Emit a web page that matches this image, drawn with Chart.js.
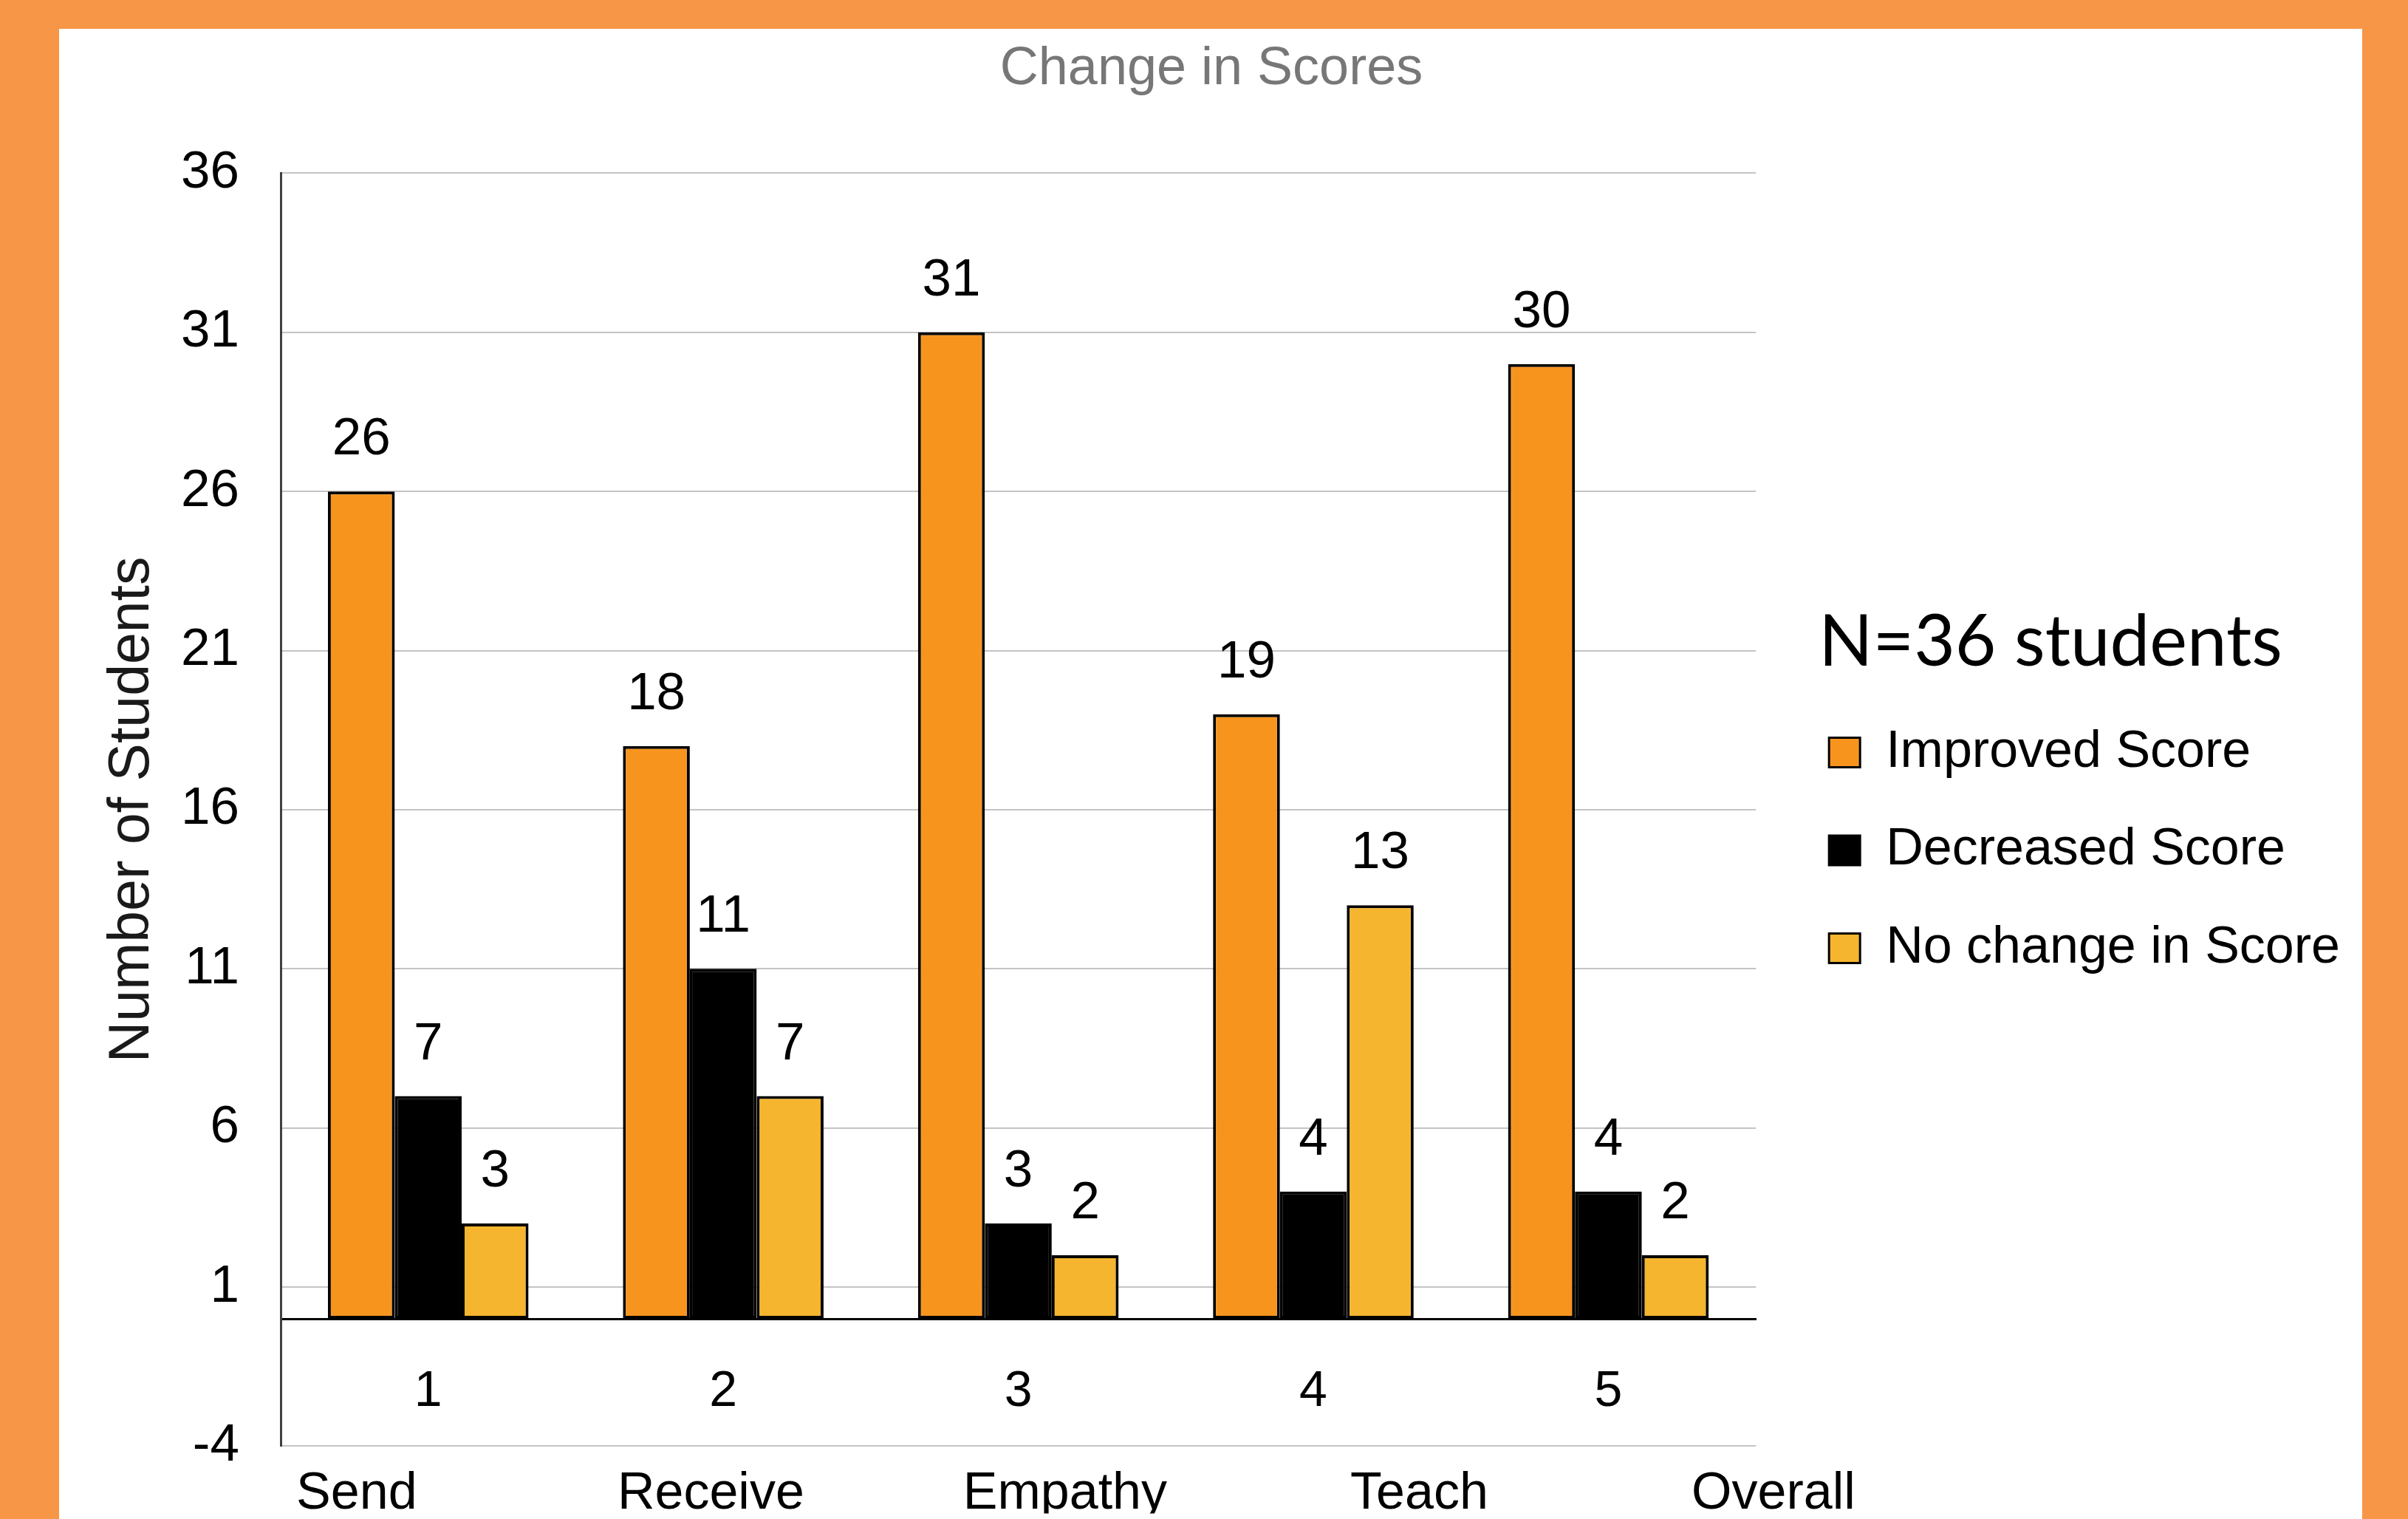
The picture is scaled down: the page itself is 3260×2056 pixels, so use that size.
<!DOCTYPE html>
<html lang="en">
<head>
<meta charset="UTF-8">
<title>Change in Scores</title>
<script src="https://cdn.jsdelivr.net/npm/chart.js"></script>
<style>
  html, body { margin: 0; padding: 0; }
  body { width: 3260px; height: 2056px; background: #f79646; position: relative; overflow: hidden; }
  .panel { position: absolute; left: 80px; top: 39px; width: 3118px; height: 2100px; background: #fff; }
  #scoresChart { position: absolute; left: 0; top: 0; }
</style>
</head>
<body>
<div class="panel"></div>
<canvas id="scoresChart" width="3260" height="2056"></canvas>

<script>
  // data
  const categories = ['1', '2', '3', '4', '5'];
  const skillNames = ['Send', 'Receive', 'Empathy', 'Teach', 'Overall'];
  const improved = [26, 18, 31, 19, 30];
  const decreased = [7, 11, 3, 4, 4];
  const noChange = [3, 7, 2, 13, 2];
  const yMin = -4, yMax = 36, yStep = 5;

  const sans = "'Liberation Sans', Arial, sans-serif";
  Chart.defaults.font.family = sans;

  // numbers above the bars
  const barValues = {
    id: 'barValues',
    afterDatasetsDraw(chart) {
      const ctx = chart.ctx;
      ctx.save();
      ctx.font = '71px ' + sans;
      ctx.fillStyle = '#000';
      ctx.textAlign = 'center';
      ctx.textBaseline = 'alphabetic';
      chart.data.datasets.forEach((ds, i) => {
        chart.getDatasetMeta(i).data.forEach((bar, j) => {
          ctx.fillText(String(ds.data[j]), bar.x, bar.y - 50);
        });
      });
      ctx.restore();
    }
  };

  const barStyle = {
    borderColor: '#000',
    borderWidth: 4,
    borderSkipped: false,
    categoryPercentage: 0.68,
    barPercentage: 1,
    xAxisID: 'x',
    yAxisID: 'y'
  };

  new Chart(document.getElementById('scoresChart'), {
    type: 'bar',
    data: {
      labels: categories,
      datasets: [
        Object.assign({label: 'Improved Score', data: improved, backgroundColor: '#f7941e'}, barStyle),
        Object.assign({label: 'Decreased Score', data: decreased, backgroundColor: '#000000'}, barStyle),
        Object.assign({label: 'No change in Score', data: noChange, backgroundColor: '#f6b52e'}, barStyle)
      ]
    },
    options: {
      responsive: false,
      animation: false,
      layout: { padding: { left: 102, right: 82, top: 0, bottom: 0 } },
      scales: {
        x: {
          position: { y: 0 },
          grid: { display: false },
          border: { display: true, color: '#000', width: 3 },
          ticks: { padding: 50, color: '#000', font: { size: 68 } }
        },
        // skill names under the plot, spaced a bit wider than the bar groups
        xNames: {
          type: 'linear',
          axis: 'x',
          position: 'bottom',
          offset: false,
          min: -0.2145,
          max: 3.9504,
          grid: { display: false, offset: false },
          border: { display: false },
          afterBuildTicks: s => { s.ticks = skillNames.map((n, i) => ({ value: i })); },
          afterFit: s => { s.height = 91; },
          ticks: {
            padding: 15, autoSkip: false, maxRotation: 0, color: '#000',
            font: { size: 70 },
            callback: v => skillNames[v]
          }
        },
        y: {
          min: yMin,
          max: yMax,
          ticks: { stepSize: yStep, padding: 56, color: '#000', font: { size: 71 } },
          grid: { color: '#c4c4c4', lineWidth: 2, drawTicks: false },
          border: { color: '#404040', width: 3 },
          title: {
            display: true,
            text: 'Number of Students',
            color: '#1a1a1a',
            font: { size: 77 },
            padding: { top: 32, bottom: 0 }
          },
          afterFit: s => { s.width = 278; }
        },
        // empty strip between plot and legend
        gap: {
          type: 'linear',
          axis: 'y',
          position: 'right',
          grid: { display: false },
          border: { display: false },
          ticks: { display: false },
          afterFit: s => { s.width = 85; }
        }
      },
      plugins: {
        title: {
          display: true,
          text: 'Change in Scores',
          color: '#777777',
          font: { size: 72, weight: 'normal' },
          padding: { top: 51, bottom: 97 }
        },
        legend: {
          position: 'right',
          align: 'start',
          fullSize: false,
          maxWidth: 900,
          title: {
            display: true,
            text: 'N=36 students',
            color: '#000',
            position: 'start',
            font: { size: 96, family: 'Lato' },
            padding: { top: 588, bottom: 32 }
          },
          labels: {
            color: '#000',
            boxWidth: 42,
            boxHeight: 40,
            padding: 14,
            font: { size: 70, lineHeight: 1.693 },
            generateLabels: chart =>
              Chart.defaults.plugins.legend.labels.generateLabels(chart).map(item =>
                Object.assign(item, { text: [item.text], lineWidth: 3, strokeStyle: '#000' }))
          }
        },
        tooltip: { enabled: false }
      }
    },
    plugins: [barValues]
  });
</script>
</body>
</html>
